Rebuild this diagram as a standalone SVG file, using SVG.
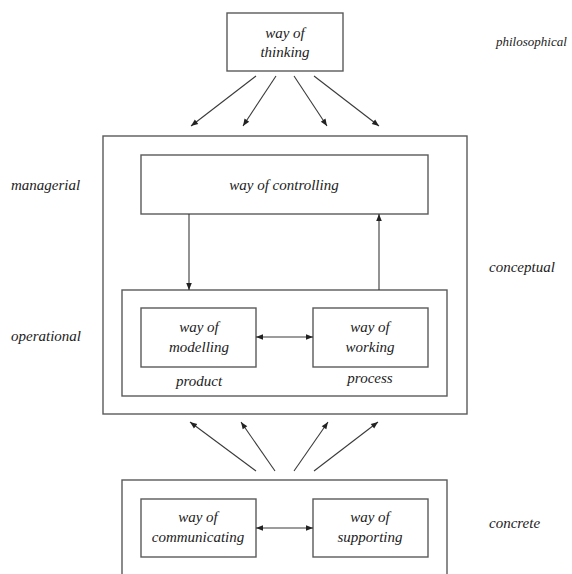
<svg xmlns="http://www.w3.org/2000/svg" width="572" height="574" viewBox="0 0 572 574">
<style>
.box{fill:none;stroke:#5a5a5a;stroke-width:1.4}
.ln{fill:none;stroke:#3a3a3a;stroke-width:1.1}
.t{font-family:"Liberation Serif","Times New Roman",serif;font-style:italic;font-size:15px;fill:#222;text-anchor:middle}
.lab{font-family:"Liberation Serif","Times New Roman",serif;font-style:italic;font-size:15px;fill:#222}
.lab.sm{font-size:13px}
</style>
<defs>
<marker id="ah" viewBox="0 0 10 10" refX="10" refY="5" markerWidth="8" markerHeight="7" markerUnits="userSpaceOnUse" orient="auto-start-reverse">
<path d="M0,1 L10,5 L0,9 z" fill="#222"/>
</marker>
</defs>
<rect width="572" height="574" fill="#fff"/>
<g id="thinking">
<rect class="box" x="227" y="13" width="116" height="58"/>
<text class="t" x="285" y="38">way of</text>
<text class="t" x="285" y="57">thinking</text>
</g>
<g id="conceptual-box">
<rect class="box" x="103" y="136" width="364" height="278"/>
</g>
<g id="controlling">
<rect class="box" x="141" y="155" width="287" height="59"/>
<text class="t" x="284" y="190">way of controlling</text>
</g>
<g id="operational-box">
<rect class="box" x="122" y="290" width="325" height="106"/>
<text class="t" x="199" y="386">product</text>
<text class="t" x="370" y="383">process</text>
</g>
<g id="modelling">
<rect class="box" x="141" y="308" width="115" height="59"/>
<text class="t" x="199" y="332">way of</text>
<text class="t" x="199" y="352">modelling</text>
</g>
<g id="working">
<rect class="box" x="313" y="308" width="115" height="59"/>
<text class="t" x="370" y="332">way of</text>
<text class="t" x="370" y="352">working</text>
</g>
<g id="concrete-box">
<rect class="box" x="122" y="480" width="325" height="110"/>
</g>
<g id="communicating">
<rect class="box" x="141" y="499" width="115" height="58"/>
<text class="t" x="198" y="522">way of</text>
<text class="t" x="198" y="542">communicating</text>
</g>
<g id="supporting">
<rect class="box" x="313" y="499" width="115" height="58"/>
<text class="t" x="370" y="522">way of</text>
<text class="t" x="370" y="542">supporting</text>
</g>
<g id="levels">
<text class="lab sm" x="496" y="46">philosophical</text>
<text class="lab" x="11" y="190">managerial</text>
<text class="lab" x="489" y="272">conceptual</text>
<text class="lab" x="11" y="341">operational</text>
<text class="lab" x="489" y="528">concrete</text>
</g>
<g id="connectors">
<line class="ln" x1="256" y1="76" x2="191" y2="126" marker-end="url(#ah)"/>
<line class="ln" x1="276" y1="76" x2="243" y2="126" marker-end="url(#ah)"/>
<line class="ln" x1="294" y1="76" x2="327" y2="126" marker-end="url(#ah)"/>
<line class="ln" x1="314" y1="76" x2="379" y2="126" marker-end="url(#ah)"/>
<line class="ln" x1="189" y1="214" x2="189" y2="290" marker-end="url(#ah)"/>
<line class="ln" x1="379" y1="290" x2="379" y2="214" marker-end="url(#ah)"/>
<line class="ln" x1="256" y1="337" x2="313" y2="337" marker-start="url(#ah)" marker-end="url(#ah)"/>
<line class="ln" x1="256" y1="471" x2="190" y2="422" marker-end="url(#ah)"/>
<line class="ln" x1="275" y1="471" x2="241" y2="422" marker-end="url(#ah)"/>
<line class="ln" x1="294" y1="471" x2="328" y2="422" marker-end="url(#ah)"/>
<line class="ln" x1="314" y1="471" x2="378" y2="422" marker-end="url(#ah)"/>
<line class="ln" x1="256" y1="528" x2="313" y2="528" marker-start="url(#ah)" marker-end="url(#ah)"/>
</g>
</svg>
